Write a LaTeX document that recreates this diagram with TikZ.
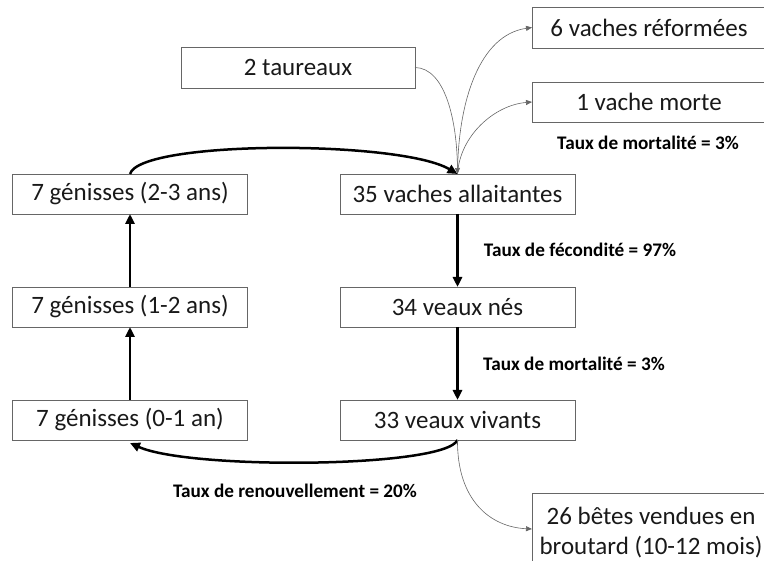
\documentclass[tikz,border=0pt]{standalone}
\usepackage{fontspec}
\setmainfont{Carlito}
\usetikzlibrary{arrows.meta}
\begin{document}
\begin{tikzpicture}[x=1pt,y=-1pt,
  box/.style={draw=black!60, line width=0.9pt, minimum width=235pt, minimum height=40pt,
    inner sep=0pt, outer sep=0pt, font=\fontsize{25}{30}\selectfont, text=black!90},
  lbl/.style={inner sep=0pt, font=\fontsize{19.2}{22}\selectfont\bfseries},
  thickarr/.style={line width=2.5pt, -{Triangle[length=10pt,width=9pt]}},
  thinarr/.style={draw=black!60, line width=0.6pt, -{Triangle[length=6pt,width=5pt]}}]
\useasboundingbox (0,0) rectangle (764,561);
% boxes
\node[box, minimum width=234pt, minimum height=41pt] (taur) at (298,67.5) {2 taureaux};
\node[box, minimum width=234pt, minimum height=41pt] (ref) at (649,27.5) {6 vaches réformées};
\node[box, minimum width=234pt] (morte) at (649,102) {1 vache morte};
\node[box] (g23) at (130,194) {7 génisses (2-3 ans)\hspace{20pt}};
\node[box] (vach) at (457.5,194) {35 vaches allaitantes};
\node[box] (g12) at (130,307) {7 génisses (1-2 ans)\hspace{20pt}};
\node[box] (nes) at (457.5,307) {34 veaux nés};
\node[box] (g01) at (130,420) {7 génisses (0-1 an)\hspace{8pt}};
\node[box] (viv) at (457.5,420) {33 veaux vivants};
\node[box, minimum width=238pt, minimum height=80pt, align=center] (vend) at (651,533)
  {26 bêtes vendues en\\broutard (10-12 mois)};
% labels
\node[lbl] (lm1) at (648,143) {Taux de mortalité = 3\%};
\node[lbl] (lfec) at (580,250) {Taux de fécondité = 97\%};
\node[lbl] (lm2) at (574,364) {Taux de mortalité = 3\%};
\node[lbl] (lren) at (295,491) {Taux de renouvellement = 20\%};
% thick connectors
\draw[thickarr] (g23.north) .. controls (140,140) and (400,140) .. (vach.north);
\draw[thickarr] (vach.south) -- (nes.north);
\draw[thickarr] (nes.south) -- (viv.north);
\draw[thickarr] (g01.north) -- (g12.south);
\draw[thickarr] (g12.north) -- (g23.south);
\draw[thickarr] (viv.south) .. controls (445,468) and (190,470) .. ([yshift=-3pt]g01.south);
% thin connectors
\draw[thinarr] (taur.east) .. controls (445,68) and (457,120) .. (vach.north);
\draw[thinarr] (vach.north) .. controls (458,100) and (480,35) .. (ref.west);
\draw[thinarr] (vach.north) .. controls (460,135) and (495,105) .. (morte.west);
\draw[thinarr] (viv.south) .. controls (457,500) and (490,527) .. ([yshift=4pt]vend.west);
\end{tikzpicture}
\end{document}
